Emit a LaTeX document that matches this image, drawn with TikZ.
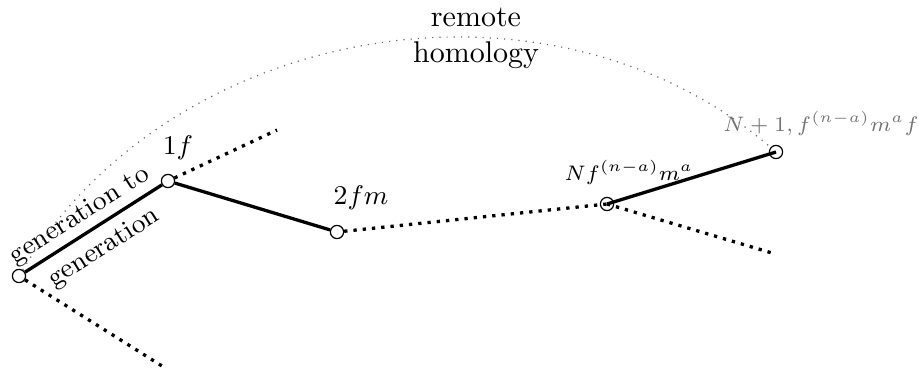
\documentclass[tikz,border=0pt]{standalone}
\usepackage{amsmath,amssymb}
\usepackage{tikz}
\usetikzlibrary{positioning,calc}

\begin{document}
\begin{tikzpicture}[
    x=0.3333pt, y=-0.3333pt,
    % small open circles for the generations
    vtx/.style={circle, draw=black, fill=white, minimum size=4.4pt, inner sep=0pt},
    hollow/.style={circle, draw=black, minimum size=4.4pt, inner sep=0pt},
    % line styles
    lineage/.style={line width=1.1pt},
    branch/.style={line width=1.1pt, dotted},
    remote/.style={black!60, dotted, line width=0.4pt},
    % label styles
    lbl/.style={font=\small},
    lblN/.style={font=\scriptsize},
    along/.style={sloped, inner sep=0pt, font=\small}
]
    \useasboundingbox (0,0) rectangle (918,371);

    % --- GENERATIONS ---
    \node[vtx] (g0) at (19,276) {};
    \node[vtx] (g1) at (168,181) {};
    \node[vtx] (g2) at (337,232) {};
    \node[hollow] (gN) at (607,204) {};
    \node[hollow] (gN1) at (776,152) {};

    % free ends of the side branches
    \coordinate (b0) at (162,366);
    \coordinate (b1) at (277,130);
    \coordinate (bN) at (772,253);

    % --- LINEAGE ---
    \draw[lineage] (g0) -- node[pos=0.47, along, above=1.5pt] {generation to}
        node[pos=0.49, along, below=3pt] {generation} (g1);
    \draw[lineage] (g1) -- (g2);
    \draw[branch] (g2) -- (gN.center);
    \draw[lineage] (gN.center) -- (gN1.center);

    % --- SIDE BRANCHES ---
    \draw[branch] (g0) -- (b0);
    \draw[branch] (g1) -- (b1);
    \draw[branch] (gN.center) -- (bN);

    % --- REMOTE HOMOLOGY ---
    \draw[remote] (g0) .. controls (173,21) and (550,-42) .. (gN1);
    \node[align=center] (rh) at (476,38) {remote\\homology};

    % --- LABELS ---
    \node[lbl] (l1) at (178,148) {$1f$};
    \node[lbl] (l2) at (361,198) {$2fm$};
    \node[lblN] (lN) at (629,172) {$Nf^{(n-a)}m^a$};
    \node[lblN, text=black!55] (lN1) at (821,123) {$N+1,f^{(n-a)}m^af$};
\end{tikzpicture}
\end{document}
